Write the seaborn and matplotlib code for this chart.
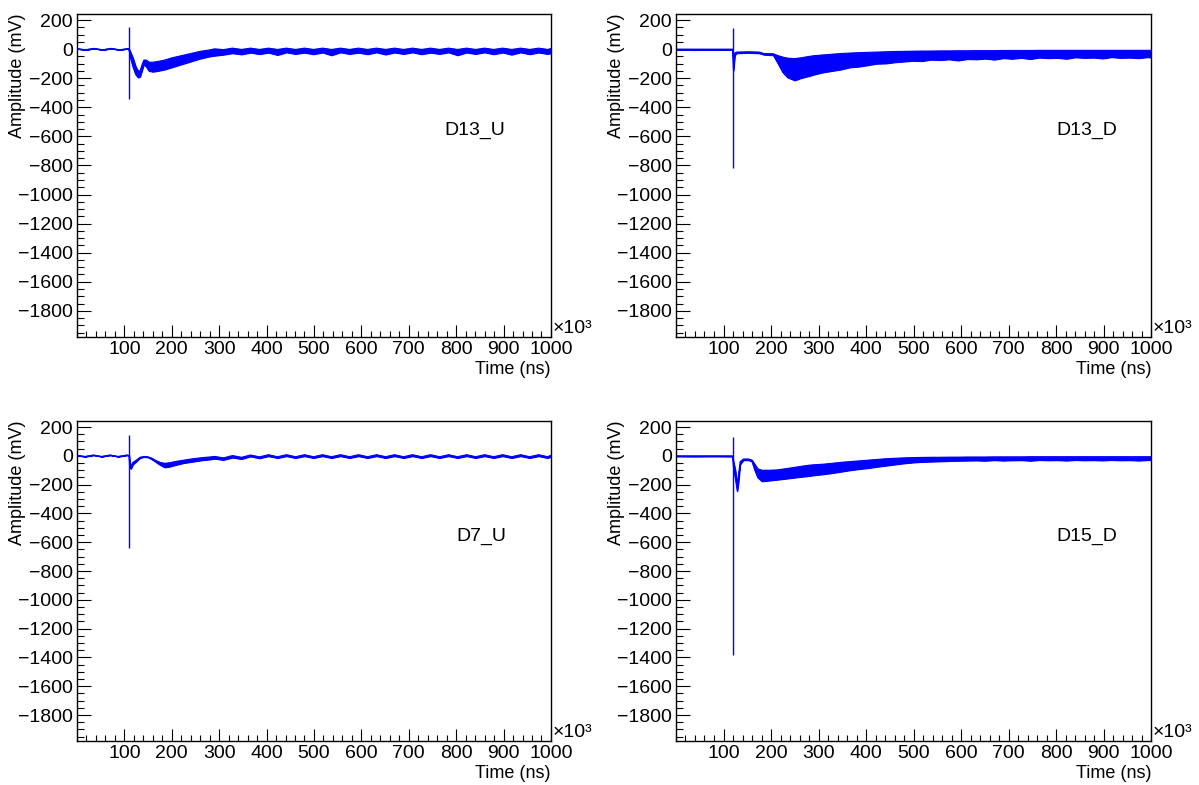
import matplotlib
matplotlib.use("Agg")
import matplotlib.pyplot as plt
import seaborn as sns
from matplotlib.ticker import MultipleLocator, FixedLocator

# time in units of 10^3 ns, amplitude in mV (upper / lower edge of the trace)
tail_t = [290, 309, 328, 347, 366, 385, 404, 423, 442, 461, 480, 499, 518, 537, 556,
          575, 594, 613, 632, 651, 670, 689, 708, 727, 746, 765, 784, 803, 822, 841,
          860, 879, 898, 917, 936, 955, 974, 993, 1000]

# D13_U
d13u_t = [0, 18, 36, 54, 72, 90, 108, 110, 113, 118, 124, 129, 133, 137, 141, 146,
          152, 160, 170, 185, 200, 220, 240, 260, 280]
d13u_hi = [3, -5, 5, -5, 5, -5, 4, 0, -20, -60, -120, -150, -150, -110, -75, -75,
           -90, -90, -85, -75, -60, -45, -30, -15, -5]
d13u_lo = [3, -5, 5, -5, 5, -5, 4, -10, -60, -120, -175, -195, -190, -150, -105, -120,
           -150, -155, -150, -140, -125, -105, -85, -65, -50]
d13u_tail_hi = [2, -3, 7, -2, 7, -2, 7, -2, 7, -2, 7, -2, 7, -2, 7, -2, 7, -2,
                7, -2, 7, -2, 7, -2, 7, -2, 7, -2, 7, -2, 7, -2, 7, -2, 7, -2,
                7, -2, 4]
d13u_tail_lo = [-45, -38, -28, -36, -24, -34, -24, -40, -22, -33, -24, -35, -23, -42,
                -22, -33, -24, -35, -22, -37, -23, -33, -22, -35, -24, -33, -22, -42,
                -23, -33, -22, -35, -23, -38, -22, -35, -23, -33, -28]

# D13_D
d13d_t = [0, 40, 80, 119, 121, 124, 128, 150, 175, 185, 205, 215, 225, 235, 250, 262, 280]
d13d_hi = [0, 0, 0, 0, -60, -25, -20, -18, -20, -30, -32, -45, -55, -62, -65, -60, -50]
d13d_lo = [-4, -6, -4, -5, -147, -40, -28, -25, -28, -38, -42, -100, -160, -195, -215,
           -200, -185]
d13d_tail_hi = [-45, -40, -35, -30, -27, -24, -22, -20, -18, -16, -15, -14, -13, -13,
                -12, -12, -11, -11, -10, -10, -10, -9, -9, -9, -9, -8, -8, -8, -8, -8,
                -8, -8, -8, -8, -8, -8, -8, -8, -8]
d13d_tail_lo = [-175, -160, -150, -140, -125, -120, -110, -100, -98, -90, -85, -80, -82,
                -72, -75, -70, -78, -68, -70, -65, -72, -62, -66, -60, -68, -58, -62,
                -60, -66, -56, -60, -58, -64, -55, -60, -58, -62, -55, -58]

# D7_U
d7u_t = [0, 17, 35, 52, 70, 87, 105, 110, 111, 114, 118, 125, 133, 141, 149, 157, 165,
         175, 185, 195, 210, 225, 245, 265, 280]
d7u_hi = [3, -5, 5, -5, 5, -5, 5, 2, -40, -70, -45, -30, -10, -4, -6, -15, -30, -45,
          -52, -48, -38, -30, -20, -12, -8]
d7u_lo = [3, -5, 5, -5, 5, -5, 5, 2, -80, -90, -60, -40, -15, -8, -10, -22, -40, -62,
          -80, -75, -62, -50, -40, -30, -25]
d7u_tail_hi = [-4, -14, 2, -10, 6, -7, 8, -6, 8, -6, 8, -6, 8, -6, 8, -6, 8, -6, 8, -6,
               8, -6, 8, -6, 8, -6, 8, -6, 8, -6, 8, -6, 8, -6, 8, -6, 8, -6, 4]
d7u_tail_lo = [-20, -28, -12, -22, -4, -17, -2, -15, -2, -15, -2, -15, -2, -15, -2, -15,
               -2, -15, -2, -15, -2, -15, -2, -15, -2, -15, -2, -15, -2, -15, -2, -15,
               -2, -15, -2, -15, -2, -15, -6]

# D15_D
d15d_t = [0, 40, 80, 119, 121, 125, 129, 132, 135, 142, 153, 160, 166, 172, 181, 195,
          212, 240, 265, 280]
d15d_hi = [0, 0, 0, 0, -40, -100, -200, -120, -40, -22, -22, -30, -60, -90, -100, -100,
           -98, -85, -72, -65]
d15d_lo = [-4, -5, -4, -5, -80, -160, -246, -170, -60, -30, -30, -40, -100, -150, -177,
           -172, -166, -155, -145, -140]
d15d_tail_hi = [-62, -58, -52, -45, -40, -35, -30, -25, -20, -17, -14, -12, -11, -10,
                -10, -9, -9, -8, -8, -8, -7, -7, -7, -7, -6, -6, -6, -6, -6, -6, -6, -6,
                -6, -6, -6, -6, -6, -6, -6]
d15d_tail_lo = [-135, -128, -120, -110, -100, -92, -85, -76, -68, -60, -52, -46, -42, -40,
                -38, -36, -34, -33, -32, -34, -30, -33, -31, -30, -34, -29, -31, -30, -33,
                -29, -31, -30, -32, -29, -31, -30, -33, -29, -30]

# trigger spikes
channel_names = ["D13_U", "D13_D", "D7_U", "D15_D"]
spike_t = [109, 120, 110.6, 120]
spike_top = [150, 144, 148, 134]
spike_bot = [-345, -815, -642, -1385]

sns.set_style("ticks")
plt.rcParams["font.family"] = ["Liberation Sans", "DejaVu Sans"]
plt.rcParams["axes.unicode_minus"] = True
plt.rcParams["text.color"] = "black"
plt.rcParams["axes.labelcolor"] = "black"
plt.rcParams["xtick.color"] = "black"
plt.rcParams["ytick.color"] = "black"

BLUE = "#0000ff"

fig = plt.figure(figsize=(11.99, 7.85), dpi=100)
positions = [
    [0.0642, 0.5707, 0.3953, 0.4115],
    [0.5638, 0.5707, 0.3962, 0.4115],
    [0.0642, 0.0561, 0.3953, 0.4076],
    [0.5638, 0.0561, 0.3962, 0.4076],
]
label_x = [0.84, 0.865, 0.853, 0.865]

traces = [
    (d13u_t, d13u_hi, d13u_lo, d13u_tail_hi, d13u_tail_lo),
    (d13d_t, d13d_hi, d13d_lo, d13d_tail_hi, d13d_tail_lo),
    (d7u_t, d7u_hi, d7u_lo, d7u_tail_hi, d7u_tail_lo),
    (d15d_t, d15d_hi, d15d_lo, d15d_tail_hi, d15d_tail_lo),
]

for i, (t, hi, lo, thi, tlo) in enumerate(traces):
    ax = fig.add_axes(positions[i])
    tt = t + tail_t
    hh = hi + thi
    ll = lo + tlo

    ax.fill_between(tt, ll, hh, color=BLUE, linewidth=0.8, edgecolor=BLUE)
    sns.lineplot(x=tt, y=hh, ax=ax, color=BLUE, linewidth=0.8, estimator=None)
    sns.lineplot(x=tt, y=ll, ax=ax, color=BLUE, linewidth=0.8, estimator=None)
    ax.vlines(spike_t[i], spike_bot[i], spike_top[i], color=BLUE, linewidth=1.0)

    ax.set_xlim(0, 1000)
    ax.set_ylim(-1980, 242)
    ax.xaxis.set_major_locator(FixedLocator(list(range(100, 1001, 100))))
    ax.xaxis.set_minor_locator(MultipleLocator(20))
    ax.yaxis.set_major_locator(FixedLocator(list(range(-1800, 201, 200))))
    ax.yaxis.set_minor_locator(MultipleLocator(50))
    ax.tick_params(which="both", direction="in", bottom=True, left=True,
                   top=False, right=False, width=0.8, color="black",
                   labelcolor="black", labelsize=14)
    ax.tick_params(which="major", axis="y", length=10, pad=3)
    ax.tick_params(which="minor", axis="y", length=5)
    ax.tick_params(which="major", axis="x", length=9, pad=3)
    ax.tick_params(which="minor", axis="x", length=4.5)

    for sp in ax.spines.values():
        sp.set_color("black")
        sp.set_linewidth(1.0)

    ax.set_xlabel("Time (ns)", loc="right", fontsize=13, labelpad=2)
    ax.set_ylabel("Amplitude (mV)", loc="top", fontsize=13)
    ax.yaxis.set_label_coords(-0.108, 1.0)
    ax.text(1.003, 0.0, "\u00d710\u00b3", transform=ax.transAxes, ha="left",
            va="bottom", fontsize=14)
    ax.text(label_x[i], 0.64, channel_names[i], transform=ax.transAxes,
            ha="center", va="center", fontsize=14)

fig.savefig("out.png", dpi=100)
